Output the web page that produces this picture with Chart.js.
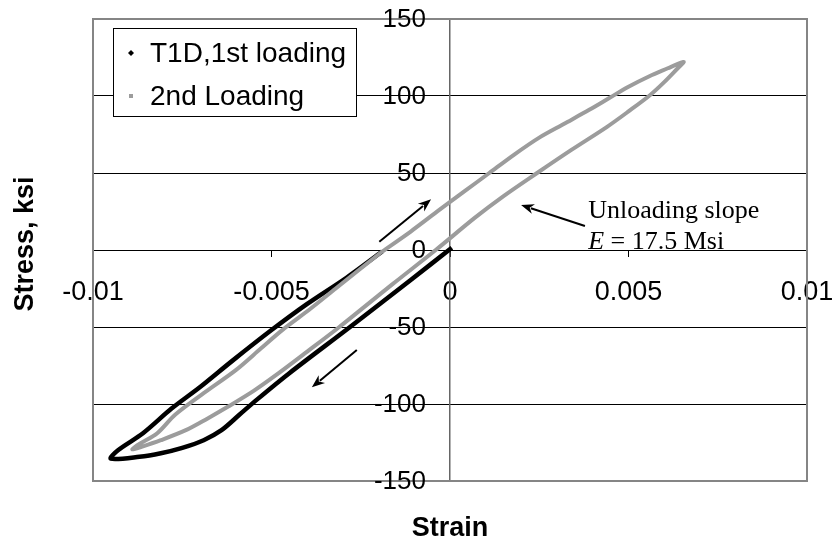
<!DOCTYPE html>
<html>
<head>
<meta charset="utf-8">
<script src="https://cdn.jsdelivr.net/npm/chart.js@4.4.1/dist/chart.umd.min.js"></script>
<style>
html, body { margin: 0; padding: 0; background: #fff; }
#wrap { width: 834px; height: 539px; position: relative; }
</style>
</head>
<body>
<div id="wrap"><canvas id="myChart"></canvas></div>
<script>
// T1D, 1st loading (strain, stress in ksi)
var strain1 = [0.00005, -0.0011, -0.0028, -0.0045, -0.0054, -0.0059, -0.0064, -0.0069, -0.0075, -0.0081, -0.0087, -0.0095,
               -0.0093, -0.0086, -0.0078, -0.0070, -0.0061, -0.0050, -0.0040, -0.0029, -0.0019];
var stress1 = [1.5, -19.5, -50, -80, -97, -107, -117, -123.5, -128.5, -132, -134.3, -135.5,
               -130, -119, -103, -89, -72, -52, -35, -18, -1];

// 2nd loading
var strain2 = [-0.0019, -0.0011, -0.0003, 0.0004, 0.0011, 0.0018, 0.0025, 0.0032, 0.0039, 0.00445, 0.0050, 0.0056, 0.0061, 0.0064, 0.00655,
               0.0064, 0.0060, 0.0056, 0.0050, 0.0044, 0.0034, 0.00244, 0.0015, 0.0007, -0.0004, -0.0016, -0.0031, -0.0040, -0.0048,
               -0.0055, -0.0062, -0.0068, -0.0074, -0.0081, -0.0086, -0.0089,
               -0.0087, -0.0082, -0.0077, -0.0069, -0.0060, -0.0053, -0.0047, -0.0039, -0.0032, -0.0025, -0.0019];
var stress2 = [-1, 12, 26, 38, 50, 62, 73, 82, 91, 98.5, 106, 113, 118, 121, 122,
               118.5, 109, 100.5, 90, 80, 65, 50, 35, 21, 0, -22, -50, -66, -80,
               -91.5, -101.5, -109.5, -117, -123.5, -127.5, -129.5,
               -126, -119, -107, -93, -78, -64, -52, -38, -25, -12, -1];

var seriesNames = ["T1D,1st loading", "2nd Loading"];
var xTickLabels = ["-0.01", "-0.005", "0", "0.005", "0.01"];
var yTickLabels = ["-150", "-100", "-50", "0", "50", "100", "150"];

// arrows in data units: [fromX, fromY, toX, toY]
var arrows = [
    [-0.00198, 5.4, -0.00053, 32.9],
    [-0.00261, -64.9, -0.00387, -89.2],
    [0.00378, 15.6, 0.00199, 29.2]
];
var noteX = 0.00387;
var noteY = [20.8, 0.6];

function toPoints(xs, ys) {
    var pts = [];
    for (var i = 0; i < xs.length; i++) {
        pts.push({x: xs[i], y: ys[i]});
    }
    return pts;
}

var SANS = '"Liberation Sans", Arial, sans-serif';
var SERIF = '"Liberation Serif", "Times New Roman", serif';

// grey frame round the plot area + the y tick labels (left of the centred axis)
var framePlugin = {
    id: 'frame',
    beforeDatasetsDraw: function(chart) {
        var c = chart.ctx, a = chart.chartArea;
        var xs = chart.scales.x, ys = chart.scales.y;
        c.save();
        c.strokeStyle = '#858585';
        c.lineWidth = 2;
        c.strokeRect(a.left, a.top, a.right - a.left, a.bottom - a.top);
        c.fillStyle = '#000';
        c.font = '26px ' + SANS;
        c.textAlign = 'right';
        c.textBaseline = 'middle';
        var ax = xs.getPixelForValue(0);
        for (var i = 0; i < ys.ticks.length; i++) {
            c.fillText(yTickLabels[i], ax - 24, ys.getPixelForValue(ys.ticks[i].value) + 1);
        }
        c.restore();
    }
};

function drawArrow(c, x1, y1, x2, y2) {
    var ang = Math.atan2(y2 - y1, x2 - x1);
    var len = 13, wid = 5;
    c.beginPath();
    c.moveTo(x1, y1);
    c.lineTo(x2 - Math.cos(ang) * len * 0.8, y2 - Math.sin(ang) * len * 0.8);
    c.stroke();
    c.beginPath();
    c.moveTo(x2, y2);
    c.lineTo(x2 - Math.cos(ang) * len - Math.sin(ang) * wid, y2 - Math.sin(ang) * len + Math.cos(ang) * wid);
    c.lineTo(x2 - Math.cos(ang) * len * 0.7, y2 - Math.sin(ang) * len * 0.7);
    c.lineTo(x2 - Math.cos(ang) * len + Math.sin(ang) * wid, y2 - Math.sin(ang) * len - Math.cos(ang) * wid);
    c.closePath();
    c.fill();
}

// axis titles, legend box, arrows and note
var extrasPlugin = {
    id: 'extras',
    afterDraw: function(chart) {
        var c = chart.ctx, a = chart.chartArea;
        var xs = chart.scales.x, ys = chart.scales.y;
        c.save();
        c.fillStyle = '#000';
        c.textAlign = 'center';
        c.textBaseline = 'middle';
        c.font = 'bold 27px ' + SANS;
        c.fillText('Strain', (a.left + a.right) / 2, a.bottom + 48);
        c.save();
        c.translate(26, a.top + 225);
        c.rotate(-Math.PI / 2);
        c.fillText('Stress, ksi', 0, 0);
        c.restore();

        // legend
        var lx = a.left + 20, ly = a.top + 9, lw = 243, lh = 88;
        c.fillStyle = '#fff';
        c.fillRect(lx, ly, lw, lh);
        c.strokeStyle = '#000';
        c.lineWidth = 1;
        c.strokeRect(lx + 0.5, ly + 0.5, lw, lh);
        c.font = '28px ' + SANS;
        c.textAlign = 'left';
        var rows = [ly + 25, ly + 68];
        // diamond marker
        c.fillStyle = chart.data.datasets[0].borderColor;
        c.beginPath();
        c.moveTo(lx + 18, rows[0] - 3);
        c.lineTo(lx + 21, rows[0]);
        c.lineTo(lx + 18, rows[0] + 3);
        c.lineTo(lx + 15, rows[0]);
        c.closePath();
        c.fill();
        // square marker
        c.fillStyle = chart.data.datasets[1].borderColor;
        c.fillRect(lx + 16, rows[1] - 2, 4, 4);
        c.fillStyle = '#000';
        c.fillText(chart.data.datasets[0].label, lx + 37, rows[0] + 1);
        c.fillText(chart.data.datasets[1].label, lx + 37, rows[1] + 1);

        // arrows
        c.strokeStyle = '#000';
        c.fillStyle = '#000';
        c.lineWidth = 2;
        for (var i = 0; i < arrows.length; i++) {
            var r = arrows[i];
            drawArrow(c, xs.getPixelForValue(r[0]), ys.getPixelForValue(r[1]),
                      xs.getPixelForValue(r[2]), ys.getPixelForValue(r[3]));
        }

        // note text
        var tx = xs.getPixelForValue(noteX);
        c.textBaseline = 'alphabetic';
        c.font = '26px ' + SERIF;
        c.fillText('Unloading slope', tx, ys.getPixelForValue(noteY[0]));
        c.font = 'italic 26px ' + SERIF;
        c.fillText('E', tx, ys.getPixelForValue(noteY[1]));
        var ew = c.measureText('E').width;
        c.font = '26px ' + SERIF;
        c.fillText(' = 17.5 Msi', tx + ew, ys.getPixelForValue(noteY[1]));
        c.restore();
    }
};

var ctx = document.getElementById('myChart').getContext('2d');
var chart = new Chart(ctx, {
    type: 'scatter',
    data: {
        datasets: [{
            label: seriesNames[0],
            data: toPoints(strain1, stress1),
            borderColor: '#000000',
            backgroundColor: '#000000',
            borderWidth: 4.5,
            showLine: true,
            pointRadius: 0,
            tension: 0.3,
            order: 2
        }, {
            label: seriesNames[1],
            data: toPoints(strain2, stress2),
            borderColor: '#9c9c9c',
            backgroundColor: '#9c9c9c',
            borderWidth: 4,
            showLine: true,
            pointRadius: 0,
            tension: 0.3,
            order: 1
        }]
    },
    options: {
        responsive: true,
        maintainAspectRatio: false,
        animation: false,
        layout: { padding: { left: 93, right: 27, top: 19, bottom: 58 } },
        plugins: {
            legend: { display: false },
            tooltip: { enabled: false }
        },
        scales: {
            x: {
                type: 'linear',
                position: { y: 0 },
                min: -0.01,
                max: 0.01,
                // end labels may hang past the frame, like in the original
                afterFit: function(scale) {
                    scale.paddingLeft = 0;
                    scale.paddingRight = 0;
                },
                ticks: {
                    stepSize: 0.005,
                    autoSkip: false,
                    maxRotation: 0,
                    padding: 20,
                    color: '#000',
                    font: { family: SANS, size: 27 },
                    callback: function(v, i) { return xTickLabels[i]; }
                },
                grid: { drawOnChartArea: false, drawTicks: true, tickLength: 6, color: '#000' },
                border: { color: '#000', width: 1 }
            },
            y: {
                type: 'linear',
                position: { x: 0 },
                min: -150,
                max: 150,
                ticks: {
                    stepSize: 50,
                    display: false
                },
                grid: { color: '#000', lineWidth: 1, drawTicks: true, tickLength: 6 },
                border: { color: '#666', width: 1.5 }
            }
        }
    },
    plugins: [framePlugin, extrasPlugin]
});
</script>
</body>
</html>
